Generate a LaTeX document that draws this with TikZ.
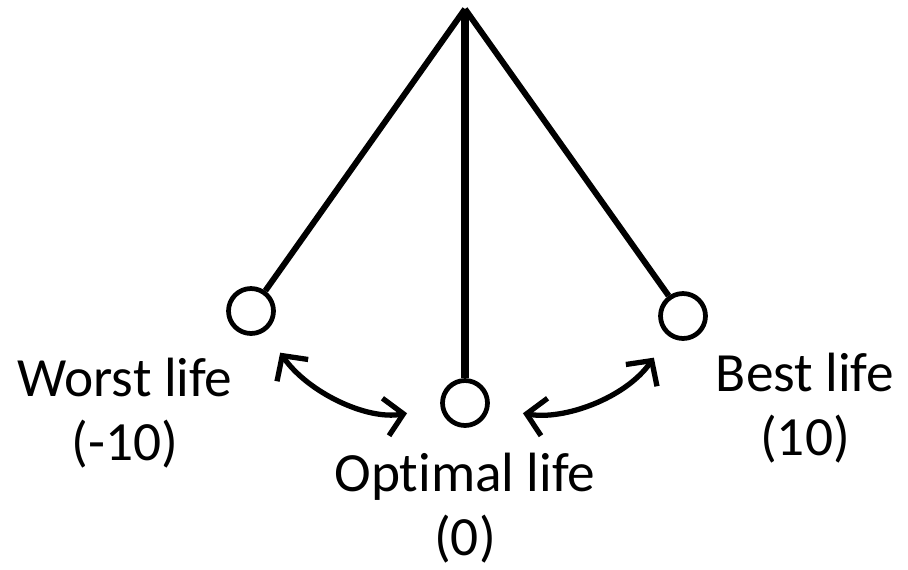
\documentclass[tikz,border=0pt]{standalone}
\usepackage{fontspec}
\setmainfont[Ligatures=NoCommon]{Carlito}
\usetikzlibrary{arrows.meta, positioning}

\begin{document}
\begin{tikzpicture}[
  x=0.02cm, y=-0.02cm,
  bob/.style={draw, circle, line width=2.7pt, minimum size=0.9cm, inner sep=0pt},
  rod/.style={line width=3.4pt},
  barb/.tip={Straight Barb[length=0.36cm, width=0.76cm]},
  swing/.style={line width=3pt, barb-barb},
  lbl/.style={align=center, inner sep=0pt, font=\fontsize{31.5}{36.4}\selectfont},
]
\useasboundingbox (0,0) rectangle (908,569);
\coordinate (top) at (465,9);
\node[bob] (worst) at (251,311) {};
\node[bob] (opt) at (465,403) {};
\node[bob] (best) at (683,316) {};
\draw[rod] (top) -- (worst);
\draw[rod] (top) -- (best);
\draw[rod, line width=4.6pt] (top) -- (opt);
% labels
\node[lbl] (worstlbl) at (125,413) {Worst life\\(-10)};
\node[lbl, below=0.5cm of opt] (optlbl) {Optimal life\\(0)};
\node[lbl] (bestlbl) at (805,408) {Best life\\(10)};
% swings
\draw[swing, shorten <=0.52cm, shorten >=0.68cm] (worst) to[out=-55, in=190] (opt);
\draw[swing, shorten <=0.68cm, shorten >=0.52cm] (opt) to[out=-10, in=235] (best);
\end{tikzpicture}
\end{document}
